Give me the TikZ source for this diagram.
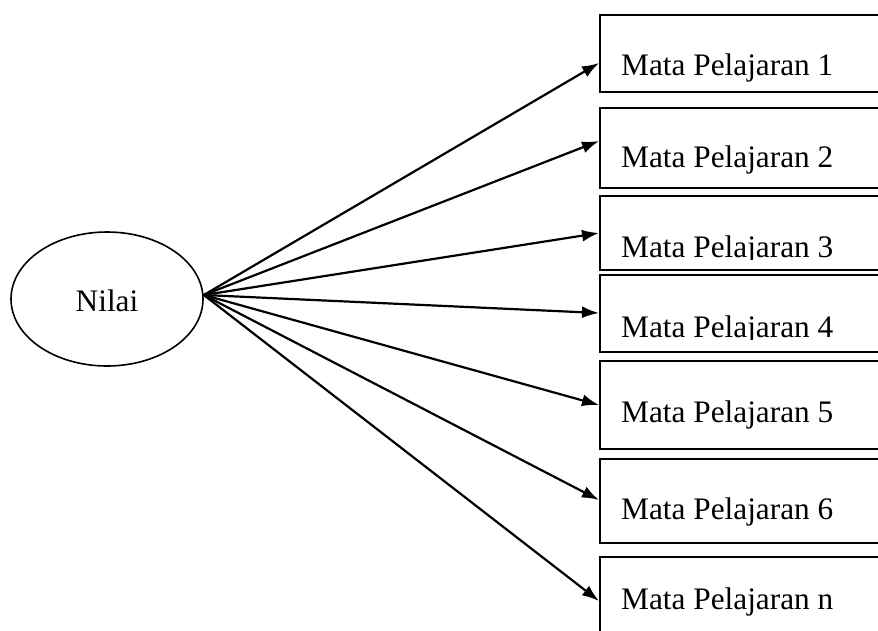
\documentclass[tikz,border=0pt]{standalone}
\usepackage{fontspec}
\setmainfont{Liberation Serif}
\usetikzlibrary{shapes.geometric,arrows.meta}
\begin{document}
\begin{tikzpicture}[x=1pt,y=-1pt,
  box/.style={draw,line width=2pt,fill=white,rectangle,anchor=north west,minimum width=300pt,inner sep=0pt},
  lbl/.style={anchor=base west,inner sep=0pt,font=\fontsize{31.3}{36}\selectfont},
  conn/.style={line width=2.2pt,-{Latex[length=17pt,width=12pt]}}]
\useasboundingbox (0,0) rectangle (878,630);
\clip (0,0) rectangle (878,630);
\fill[white] (0,0) rectangle (878,630);
\node[ellipse,draw,line width=1.6pt,minimum width=192pt,minimum height=134pt,inner sep=0pt] (nilai) at (107,299) {};
\node[lbl,anchor=base] (tn) at (107,311) {Nilai};
\node[box,minimum height=77pt] (b1) at (599,14) {};
\node[lbl] (t1) at (621,75) {Mata Pelajaran 1};
\node[box,minimum height=80pt] (b2) at (599,107) {};
\node[lbl] (t2) at (621,167) {Mata Pelajaran 2};
\node[box,minimum height=74pt] (b3) at (599,195) {};
\begin{scope}
\clip (599,195) rectangle (880,259);
\node[lbl] (t3) at (621,257) {Mata Pelajaran 3};
\end{scope}
\node[box,minimum height=77pt] (b4) at (599,274) {};
\begin{scope}
\clip (599,274) rectangle (880,339);
\node[lbl] (t4) at (621,337) {Mata Pelajaran 4};
\end{scope}
\node[box,minimum height=88pt] (b5) at (599,360) {};
\node[lbl] (t5) at (621,422) {Mata Pelajaran 5};
\node[box,minimum height=84pt] (b6) at (599,458) {};
\node[lbl] (t6) at (621,519) {Mata Pelajaran 6};
\node[box,minimum height=90pt] (b7) at (599,556) {};
\node[lbl] (t7) at (621,609) {Mata Pelajaran n};
\coordinate (o) at ([yshift=4pt]nilai.east);
\draw[conn] (o) -- ([yshift=-9.5pt]b1.west);
\draw[conn] (o) -- ([yshift=7pt]b2.west);
\draw[conn] (o) -- ([yshift=0pt]b3.west);
\draw[conn] (o) -- ([yshift=0.5pt]b4.west);
\draw[conn] (o) -- ([yshift=0pt]b5.west);
\draw[conn] (o) -- ([yshift=1pt]b6.west);
\draw[conn] (o) -- ([yshift=1pt]b7.west);
\end{tikzpicture}
\end{document}
